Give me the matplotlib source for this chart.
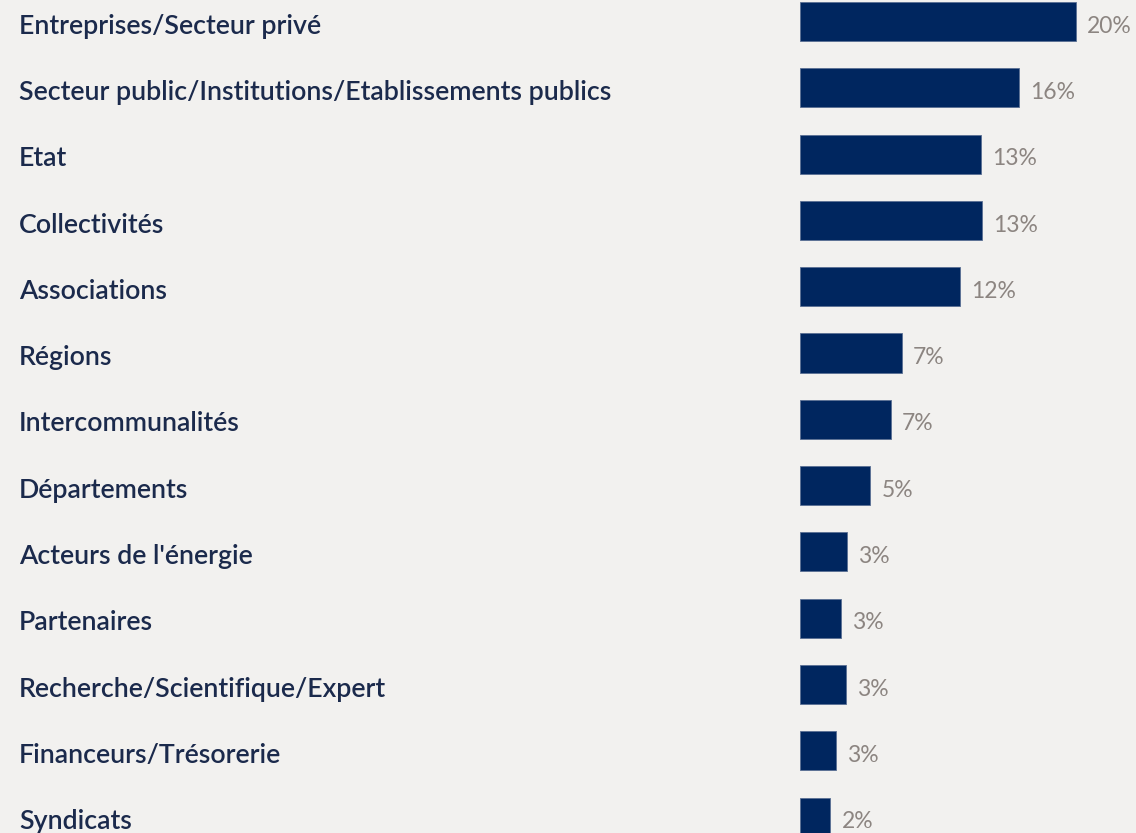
import matplotlib.pyplot as plt
import matplotlib.transforms as mtransforms

categories = [
    "Entreprises/Secteur privé",
    "Secteur public/Institutions/Etablissements publics",
    "Etat",
    "Collectivités",
    "Associations",
    "Régions",
    "Intercommunalités",
    "Départements",
    "Acteurs de l'énergie",
    "Partenaires",
    "Recherche/Scientifique/Expert",
    "Financeurs/Trésorerie",
    "Syndicats",
]
shares = [20.0, 15.9, 13.1, 13.2, 11.6, 7.4, 6.6, 5.1, 3.4, 3.0, 3.3, 2.6, 2.2]

bg = '#f2f1ef'
bar_color = '#00265f'
text_color = '#1b2a4c'
value_color = '#8c8581'

plt.rcParams['font.family'] = ['Lato', 'DejaVu Sans']

fig = plt.figure(figsize=(11.36, 8.33), dpi=100, facecolor=bg)
ax = fig.add_axes([800 / 1136, 0, 336 / 1136, 1])
ax.set_facecolor(bg)

y = list(range(len(categories)))
ax.barh(y, shares, height=0.59, color=bar_color, edgecolor='#5a6f93', linewidth=0.6)

ax.set_xlim(0, 336 / 13.8)
ax.set_ylim((833 - 21.5) / 66.3, -21.5 / 66.3)

trans = mtransforms.blended_transform_factory(fig.transFigure, ax.transData)
for i, (cat, val) in enumerate(zip(categories, shares)):
    ax.text(19 / 1136, i + 0.07, cat, transform=trans, ha='left', va='center',
            fontsize=19.3, fontweight='semibold', color=text_color, clip_on=False)
    ax.text(val + 0.8, i + 0.07, '%d%%' % round(val), ha='left', va='center',
            fontsize=16.5, color=value_color)

ax.axis('off')

fig.savefig('out.png', dpi=100, facecolor=bg)
